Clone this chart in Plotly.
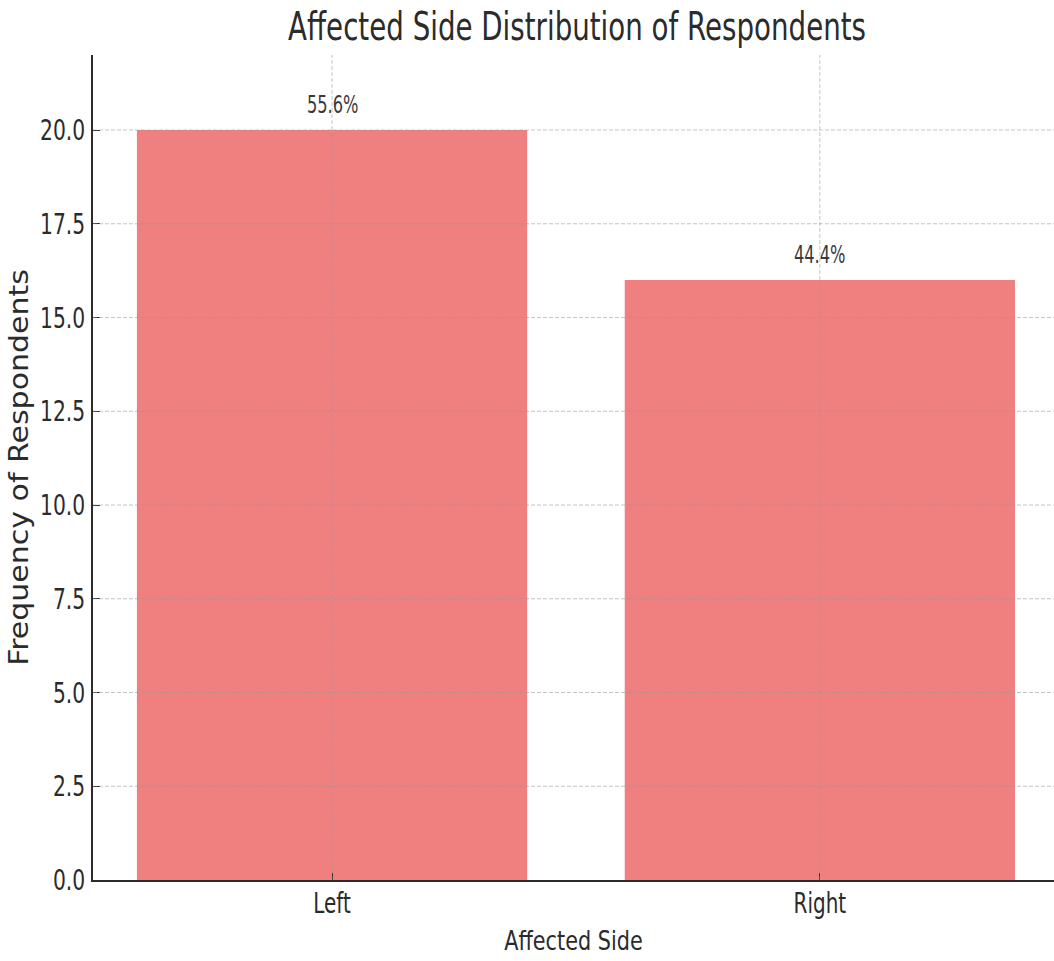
import plotly.graph_objects as go

# Respondent counts by affected side
sides = ["Left", "Right"]
counts = [20, 16]
y_ticks = [0, 2.5, 5, 7.5, 10, 12.5, 15, 17.5, 20]
y_tick_text = ["0.0", "2.5", "5.0", "7.5", "10.0", "12.5", "15.0", "17.5", "20.0"]

total = sum(counts)
shares = [c / total * 100 for c in counts]

FONT = "DejaVu Sans, sans-serif"
INK = "#2b2b2b"
GRID = "rgba(150,150,150,0.55)"

fig = go.Figure(
    go.Bar(
        x=sides,
        y=counts,
        width=0.8,
        marker=dict(color="#F08080", line=dict(width=0)),
        hoverinfo="skip",
    )
)

# Percentage labels above each bar
for side, c, s in zip(sides, counts, shares):
    fig.add_annotation(
        x=side, y=c, text=f"{s:.1f}%", showarrow=False,
        yshift=26, font=dict(family=FONT, size=25, color="#3a3a3a"),
    )

# Dashed grid drawn on top of the bars
for v in y_ticks[1:]:
    fig.add_shape(type="line", xref="paper", x0=0, x1=1, yref="y", y0=v, y1=v,
                  line=dict(color=GRID, width=1, dash="4px,2px"), layer="above")
for side in sides:
    fig.add_shape(type="line", xref="x", x0=side, x1=side, yref="paper", y0=0, y1=1,
                  line=dict(color=GRID, width=1, dash="4px,2px"), layer="above")

fig.update_layout(
    width=1054, height=961,
    margin=dict(l=93, r=0, t=55, b=81, autoexpand=False),
    paper_bgcolor="white", plot_bgcolor="white",
    showlegend=False,
    title=dict(
        text="Affected Side Distribution of Respondents",
        x=0.5475, xanchor="center", y=0.973, yanchor="middle",
        font=dict(family=FONT, size=39, color=INK),
    ),
    xaxis=dict(
        range=[-0.49, 1.48],
        automargin=False,
        showgrid=False,
        showline=True, linecolor=INK, linewidth=2,
        ticks="inside", ticklen=7, tickcolor=INK,
        tickfont=dict(family=FONT, size=29, color=INK),
        title=dict(text="Affected Side", font=dict(family=FONT, size=27, color=INK), standoff=8),
        layer="above traces",
    ),
    yaxis=dict(
        range=[0, 22],
        automargin=False,
        tickvals=y_ticks, ticktext=y_tick_text,
        showgrid=False, zeroline=False,
        showline=True, linecolor=INK, linewidth=2,
        ticks="inside", ticklen=7, tickcolor=INK,
        tickfont=dict(family=FONT, size=29, color=INK),
        title=dict(text="Frequency of Respondents", font=dict(family=FONT, size=30, color=INK), standoff=14),
        layer="above traces",
    ),
)

# Narrow the lettering of each text group around its own anchor point
post = """
var gd = document.getElementById('{plot_id}');
function narrow(sel, sx, sy, dx, dy) {
  gd.querySelectorAll(sel).forEach(function (t) {
    var x = parseFloat(t.getAttribute('x') || 0);
    var y = parseFloat(t.getAttribute('y') || 0);
    var tr = t.getAttribute('transform') || '';
    t.setAttribute('transform', tr + ' translate(' + (x + dx) + ',' + (y + dy) + ') scale(' + sx + ',' + sy +
                   ') translate(' + (-x) + ',' + (-y) + ')');
  });
}
narrow('.gtitle', 0.71, 1, 0, 0);
narrow('.xtick text', 0.69, 1, 0, -4);
narrow('.ytick text', 0.70, 1, 0, 0);
narrow('.g-xtitle text', 0.77, 1, 0, 0);
narrow('.annotation-text', 0.65, 1, 0, 0);
narrow('.g-ytitle text', 1, 0.87, 0, 0);
"""

fig.write_html("out.html", post_script=post)
